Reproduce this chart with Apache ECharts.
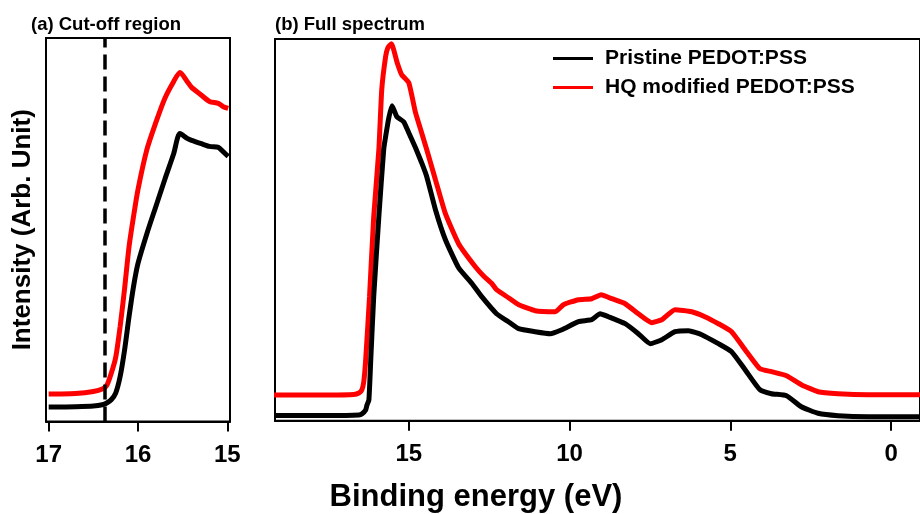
<!DOCTYPE html>
<html>
<head>
<meta charset="utf-8">
<script src="https://cdn.jsdelivr.net/npm/echarts@6/dist/echarts.min.js"></script>
<style>
html,body{margin:0;padding:0;background:#fff;}
#chart{width:920px;height:514px;}
</style>
</head>
<body>
<div id="chart"></div>
<script>
// ---- Data (binding energy in eV, intensity in arbitrary units) ----
const seriesNames = ['Pristine PEDOT:PSS', 'HQ modified PEDOT:PSS'];
const panelTitles = ['(a) Cut-off region', '(b) Full spectrum'];
const xAxisTitle = 'Binding energy (eV)';
const yAxisTitle = 'Intensity (Arb. Unit)';
const cutoffTicks = [15, 16, 17];
const fullTicks = [0, 5, 10, 15];
const cutoffEnergy = 16.37;

// (a) cut-off region
const cutE       = [17.0, 16.9, 16.7, 16.5, 16.4, 16.35, 16.3, 16.25, 16.2, 16.15, 16.1, 16.05, 16.0, 15.9, 15.8, 15.7, 15.6, 15.53, 15.45, 15.4, 15.3, 15.2, 15.1, 15.05, 14.99];
const cutPristine= [14.4, 14.4, 14.7, 15.4, 16.7, 18.5, 21.7, 28.4, 45, 71.7, 105, 135, 158, 188, 215, 242, 268, 288, 283, 281, 278, 275, 274, 270, 265];
const cutHQ      = [27.4, 27.5, 28, 30, 32.4, 36, 48, 64, 95, 133, 175, 205, 232, 272, 299, 323, 340, 349, 340, 334, 327, 320, 318, 315, 313];

// (b) full spectrum
const fullEPristine = [19.19, 17.48, 16.55, 16.46, 16.34, 16.30, 16.24, 16.18, 16.09, 15.93, 15.78, 15.72, 15.62, 15.52, 15.37, 15.16, 15.00, 14.79, 14.60, 14.44, 14.17, 13.86, 13.45, 13.03, 12.73, 12.27, 11.90, 11.58, 11.07, 10.60, 10.24, 9.72, 9.31, 9.05, 8.79, 8.27, 7.86, 7.49, 7.13, 6.72, 6.30, 5.89, 5.37, 4.96, 4.54, 4.08, 3.72, 3.25, 2.79, 2.27, 1.65, 0.71, -0.9];
const fullIPristine = [5.2, 5.2, 5.7, 6.7, 10.7, 15.7, 20.7, 62, 124, 204, 271, 284, 303, 315, 304, 299, 288, 273, 258, 244, 211, 181, 153, 137, 124, 107, 99, 92, 89, 87, 91, 99, 101, 107, 104, 97, 87, 77, 81, 89, 90, 86, 77, 69, 51, 31, 27, 25, 14, 7.4, 5, 4, 4];
const fullEHQ = [19.19, 17.48, 16.71, 16.55, 16.46, 16.40, 16.34, 16.22, 16.09, 15.93, 15.84, 15.72, 15.65, 15.54, 15.36, 15.22, 15.00, 14.79, 14.60, 14.44, 14.17, 13.86, 13.45, 12.93, 12.65, 12.41, 12.27, 11.90, 11.58, 11.07, 10.44, 10.19, 9.72, 9.31, 9.02, 8.69, 8.27, 7.86, 7.44, 7.13, 6.72, 6.20, 5.79, 5.37, 4.96, 4.54, 4.08, 3.72, 3.25, 2.79, 2.27, 1.65, 0.71, -0.9];
const fullIHQ = [25.7, 25.7, 26.2, 27.7, 30.7, 38.7, 60.7, 124, 204, 271, 331, 364, 373, 377, 358, 346, 338, 308, 288, 271, 241, 207, 177, 154, 144, 137, 131, 123, 116, 110, 109, 116, 121, 122, 126, 122, 117, 107, 98, 101, 111, 109, 104, 97, 89, 71, 52, 49, 45, 36, 29, 27, 26, 26];

const zip = (xs, ys) => xs.map((x, i) => [x, ys[i]]);
const FONT = 'Liberation Sans, Arial, sans-serif';
const BLACK = '#000000', RED = '#ff0000';

const chart = echarts.init(document.getElementById('chart'), null, {renderer: 'canvas'});

const xAxisCommon = (gridIndex, min, max, ticks) => ({
  gridIndex, type: 'value', inverse: true, min, max,
  splitLine: {show: false},
  axisLine: {show: true, onZero: false, lineStyle: {color: BLACK, width: 2}},
  axisTick: {show: true, inside: false, length: 10, lineStyle: {color: BLACK, width: 2}, customValues: ticks},
  axisLabel: {show: true, customValues: ticks, margin: 22, color: BLACK, fontSize: 24, fontWeight: 'bold', fontFamily: FONT}
});

const option = {
  animation: false,
  backgroundColor: '#ffffff',
  grid: [
    {left: 46, right: 690, top: 38, bottom: 92.5, show: true, borderColor: BLACK, borderWidth: 2, backgroundColor: 'transparent'},
    {left: 275, right: -2, top: 39, bottom: 93.3, show: true, borderColor: BLACK, borderWidth: 2, backgroundColor: 'transparent'}
  ],
  xAxis: [
    xAxisCommon(0, 14.97, 17.03, cutoffTicks),
    xAxisCommon(1, -0.9, 19.16, fullTicks)
  ],
  yAxis: [
    {gridIndex: 0, type: 'value', min: 0, max: 383.4,
     name: yAxisTitle, nameLocation: 'middle', nameGap: 10,
     nameTextStyle: {color: BLACK, fontSize: 26, fontWeight: 'bold', fontFamily: FONT},
     axisLine: {show: false}, axisTick: {show: false}, axisLabel: {show: false}, splitLine: {show: false}},
    {gridIndex: 1, type: 'value', min: 0, max: 381.7,
     axisLine: {show: false}, axisTick: {show: false}, axisLabel: {show: false}, splitLine: {show: false}}
  ],
  legend: {
    orient: 'vertical', left: 553, top: 48, padding: 0,
    icon: 'rect', itemWidth: 40, itemHeight: 3, itemGap: 8,
    data: seriesNames,
    textStyle: {color: BLACK, fontSize: 21, fontWeight: 'bold', fontFamily: FONT, padding: [0, 0, 0, 7]}
  },
  graphic: [
    {type: 'text', x: 31, y: 25, style: {text: panelTitles[0], font: 'bold 18.5px ' + FONT, fill: BLACK, align: 'left', verticalAlign: 'middle'}},
    {type: 'text', x: 275, y: 25, style: {text: panelTitles[1], font: 'bold 18.5px ' + FONT, fill: BLACK, align: 'left', verticalAlign: 'middle'}},
    {type: 'text', x: 476, y: 497, style: {text: xAxisTitle, font: 'bold 31px ' + FONT, fill: BLACK, align: 'center', verticalAlign: 'middle'}}
  ],
  series: [
    {name: seriesNames[1], type: 'line', xAxisIndex: 0, yAxisIndex: 0, data: zip(cutE, cutHQ),
     showSymbol: false, smooth: 0.25, lineStyle: {color: RED, width: 5}, itemStyle: {color: RED}},
    {name: seriesNames[0], type: 'line', xAxisIndex: 0, yAxisIndex: 0, data: zip(cutE, cutPristine),
     showSymbol: false, smooth: 0.25, lineStyle: {color: BLACK, width: 5}, itemStyle: {color: BLACK},
     markLine: {silent: true, symbol: 'none', label: {show: false},
       lineStyle: {color: BLACK, width: 3.5, type: [15, 7]},
       data: [{xAxis: cutoffEnergy}]}},
    {name: seriesNames[1], type: 'line', xAxisIndex: 1, yAxisIndex: 1, data: zip(fullEHQ, fullIHQ),
     showSymbol: false, smooth: 0.15, lineStyle: {color: RED, width: 5}, itemStyle: {color: RED}},
    {name: seriesNames[0], type: 'line', xAxisIndex: 1, yAxisIndex: 1, data: zip(fullEPristine, fullIPristine),
     showSymbol: false, smooth: 0.15, lineStyle: {color: BLACK, width: 5}, itemStyle: {color: BLACK}}
  ]
};
chart.setOption(option);
</script>
</body>
</html>
